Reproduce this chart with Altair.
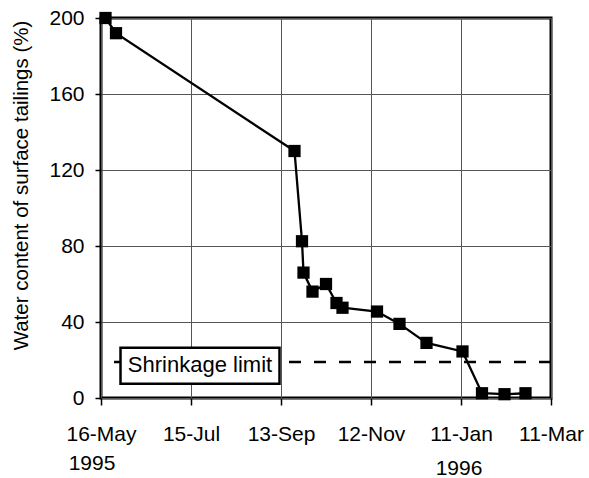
import altair as alt
import pandas as pd

# Sampling dates and measured water content of the surface tailings
sample_dates = [
    "1995-05-19", "1995-05-26", "1995-09-22", "1995-09-27", "1995-09-28",
    "1995-10-04", "1995-10-13", "1995-10-20", "1995-10-24", "1995-11-16",
    "1995-12-01", "1995-12-19", "1996-01-12", "1996-01-25", "1996-02-09",
    "1996-02-23",
]
water_content = [200, 192, 130, 82.5, 66, 56, 60, 50, 47.5, 45.5, 39, 29, 24.5, 2.5, 2, 2.5]

# Shrinkage limit and its label box (date span and water-content span)
shrinkage_limit = [19]
limit_label = ["Shrinkage limit"]
label_box_dates = ["1995-05-29", "1995-09-12"]
label_box_values = [7.5, 26.5]
label_center_date = ["1995-07-21"]
label_center_value = [17.3]

# Axis ticks
x_tick_dates = [(1995, 5, 16), (1995, 7, 15), (1995, 9, 13), (1995, 11, 12), (1996, 1, 11), (1996, 3, 11)]
y_ticks = [0, 40, 80, 120, 160, 200]
year_labels = ["1995", "1996"]
year_dates = ["1995-05-16", "1996-01-11"]

FONT = "Liberation Sans"


def dt(y, m, d):
    return alt.DateTime(year=y, month=m, date=d, utc=True)


x_scale = alt.Scale(type="utc", domain=[dt(*x_tick_dates[0]), dt(*x_tick_dates[-1])], nice=False)
y_scale = alt.Scale(domain=[0, 200], nice=False)

x_axis = alt.Axis(
    values=[dt(*t) for t in x_tick_dates],
    format="%-d-%b",
    title=None,
    grid=True,
    gridColor="#555",
    gridWidth=1,
    domain=False,
    ticks=True,
    tickSize=7,
    tickColor="black",
    tickWidth=1.5,
    labelFont=FONT,
    labelFontSize=21,
    labelColor="black",
    labelPadding=18,
    labelFlush=False,
    labelOverlap=False,
)
y_axis = alt.Axis(
    values=y_ticks,
    title="Water content of surface tailings (%)",
    titleFont=FONT,
    titleFontSize=20.5,
    titleFontWeight="normal",
    titleColor="black",
    titleX=-74,
    titleY=167,
    titleBaseline="alphabetic",
    titleAlign="center",
    grid=True,
    gridColor="#555",
    gridWidth=1,
    domain=False,
    ticks=True,
    tickSize=6,
    tickColor="black",
    tickWidth=1.5,
    labelFont=FONT,
    labelFontSize=21,
    labelColor="black",
    labelPadding=11,
)

series = pd.DataFrame({"date": sample_dates, "water": water_content})

base = alt.Chart(series).encode(
    x=alt.X("date:T", scale=x_scale, axis=x_axis),
    y=alt.Y("water:Q", scale=y_scale, axis=y_axis),
)

limit_rule = alt.Chart(pd.DataFrame({"limit": shrinkage_limit})).mark_rule(
    color="black", strokeWidth=2.5, strokeDash=[12, 13]
).encode(y=alt.Y("limit:Q", scale=y_scale))

box = alt.Chart(pd.DataFrame({
    "x0": [label_box_dates[0]], "x1": [label_box_dates[1]],
    "y0": [label_box_values[0]], "y1": [label_box_values[1]],
})).mark_rect(fill="white", stroke="black", strokeWidth=2.5).encode(
    x=alt.X("x0:T", scale=x_scale), x2="x1:T",
    y=alt.Y("y0:Q", scale=y_scale), y2="y1:Q",
)

box_text = alt.Chart(pd.DataFrame({
    "d": label_center_date, "v": label_center_value, "t": limit_label,
})).mark_text(font=FONT, fontSize=22, color="black", baseline="middle", align="center").encode(
    x=alt.X("d:T", scale=x_scale), y=alt.Y("v:Q", scale=y_scale), text="t:N"
)

line = base.mark_line(color="black", strokeWidth=2.3)
points = base.mark_point(shape="square", filled=True, size=150, color="black", opacity=1)

years = pd.DataFrame({"d": year_dates, "t": year_labels})
year_1995 = alt.Chart(years.iloc[[0]]).mark_text(
    font=FONT, fontSize=21, color="black", baseline="alphabetic", align="center", dx=-9
).encode(x=alt.X("d:T", scale=x_scale), y=alt.value(452), text="t:N")
year_1996 = alt.Chart(years.iloc[[1]]).mark_text(
    font=FONT, fontSize=21, color="black", baseline="alphabetic", align="center", dx=-2
).encode(x=alt.X("d:T", scale=x_scale), y=alt.value(457), text="t:N")

chart = alt.layer(
    line, limit_rule, box, box_text, points, year_1995, year_1996
).properties(
    width=450,
    height=380,
    padding={"left": 101, "top": 18, "right": 38, "bottom": 80},
    autosize=alt.AutoSizeParams(type="none"),
    background="white",
).configure_view(stroke="black", strokeWidth=3)

chart.save("out.html", embed_options={"renderer": "svg", "actions": False})
